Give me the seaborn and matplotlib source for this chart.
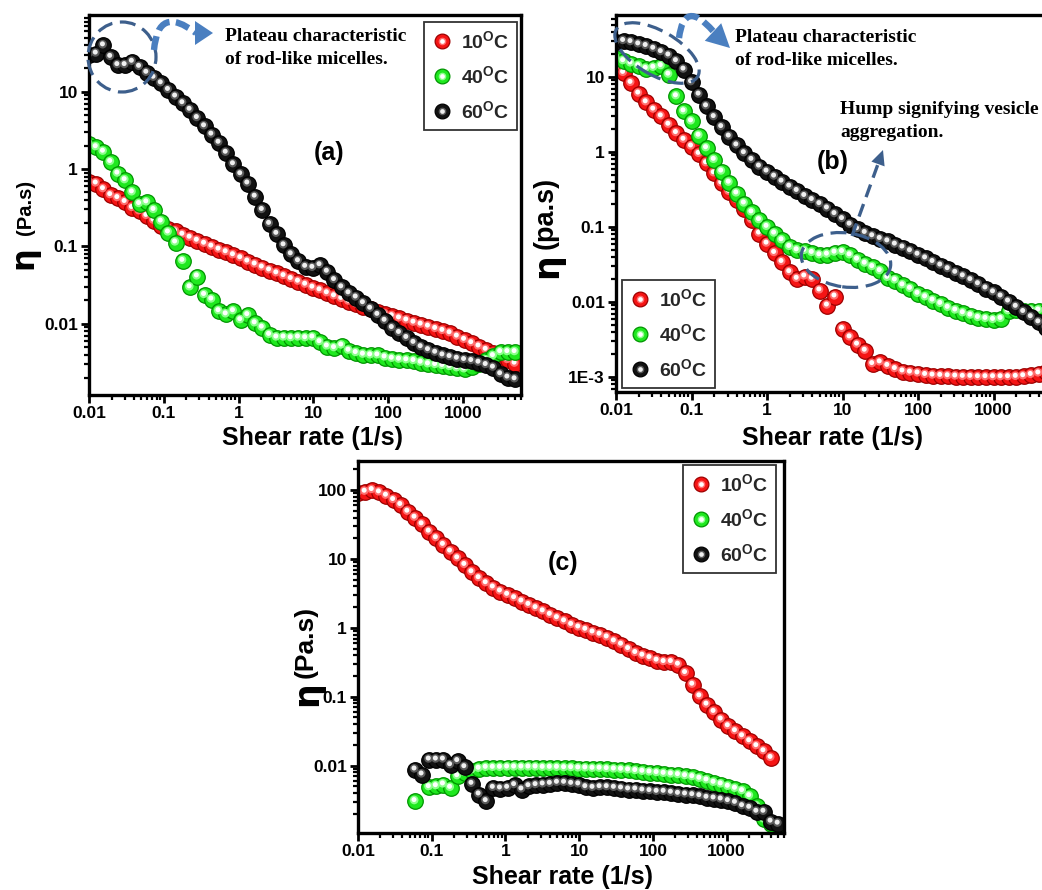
import numpy as np
import pandas as pd
import matplotlib
matplotlib.use("Agg")
import matplotlib.pyplot as plt
import seaborn as sns
from matplotlib.patches import Ellipse, Polygon, PathPatch
from matplotlib.path import Path
from matplotlib.lines import Line2D
from matplotlib.legend_handler import HandlerTuple
from matplotlib.ticker import FixedLocator, FixedFormatter, LogLocator, NullFormatter
from matplotlib.transforms import offset_copy, IdentityTransform

# ---------------------------------------------------------------------------
# Shear-rate sweeps (1/s)
# ---------------------------------------------------------------------------
shear_rate = [0.01, 0.0125, 0.0156, 0.0195, 0.0243, 0.0304, 0.038, 0.0474, 0.0593, 0.074,
              0.0925, 0.1155, 0.144, 0.18, 0.225, 0.281, 0.351, 0.439, 0.548, 0.684,
              0.855, 1.07, 1.33, 1.67, 2.08, 2.6, 3.25, 4.06, 5.07, 6.33,
              7.9, 9.87, 12.3, 15.4, 19.2, 24.0, 30.0, 37.5, 46.8, 58.5,
              73.0, 91.2, 114, 142, 178, 222, 277, 347, 433, 541,
              675, 844, 1054, 1316, 1644, 2054, 2566, 3204, 4002, 5000]

shear_rate_b = [0.01, 0.0126, 0.0158, 0.02, 0.0251, 0.0316, 0.0398, 0.0501, 0.0631, 0.0794,
                0.1, 0.126, 0.158, 0.2, 0.251, 0.316, 0.398, 0.501, 0.631, 0.794,
                1, 1.26, 1.58, 2, 2.51, 3.16, 3.98, 5.01, 6.31, 7.94,
                10, 12.6, 15.8, 20, 25.1, 31.6, 39.8, 50.1, 63.1, 79.4,
                100, 126, 158, 200, 251, 316, 398, 501, 631, 794,
                1000, 1260, 1580, 2000, 2510, 3160, 3980, 5010]

# ---------------------------------------------------------------------------
# Viscosity (Pa.s), panel (a)
# ---------------------------------------------------------------------------
a_10C = [0.68, 0.649, 0.548, 0.459, 0.420, 0.374, 0.313, 0.284, 0.247, 0.215,
         0.186, 0.170, 0.156, 0.141, 0.129, 0.118, 0.108, 0.0991, 0.0906, 0.0838,
         0.0767, 0.0702, 0.0635, 0.0582, 0.0532, 0.0488, 0.0447, 0.0412, 0.0378, 0.0349,
         0.0319, 0.0292, 0.0270, 0.0247, 0.0226, 0.0209, 0.0193, 0.0179, 0.0165, 0.0153,
         0.0143, 0.0133, 0.0125, 0.0117, 0.0110, 0.0103, 0.00971, 0.00916, 0.00855, 0.00806,
         0.00752, 0.00681, 0.00618, 0.00560, 0.00507, 0.00459, 0.00417, 0.00374, 0.00339, 0.00304]

a_40C = [2.1, 1.91, 1.67, 1.23, 0.871, 0.716, 0.498, 0.352, 0.370, 0.295,
         0.209, 0.151, 0.112, 0.0648, 0.0295, 0.0408, 0.0235, 0.0205, 0.0145, 0.0132,
         0.0145, 0.0111, 0.0129, 0.0101, 0.00889, 0.00716, 0.00662, 0.00662, 0.00649, 0.00662,
         0.00649, 0.00662, 0.00577, 0.00507, 0.00483, 0.00522, 0.00447, 0.00417, 0.00397, 0.00389,
         0.00389, 0.00366, 0.00352, 0.00342, 0.00336, 0.00329, 0.00313, 0.00298, 0.00292, 0.00284,
         0.00275, 0.00265, 0.00257, 0.00275, 0.00298, 0.00336, 0.00381, 0.00429, 0.00429, 0.00429]

a_60C = [30.0, 31.0, 39.6, 28.1, 22.0, 22.0, 24.3, 20.9, 17.5, 15.1,
         12.8, 10.5, 8.63, 7.08, 5.82, 4.55, 3.56, 2.78, 2.18, 1.62,
         1.15, 0.855, 0.649, 0.438, 0.295, 0.195, 0.145, 0.103, 0.0789, 0.0642,
         0.0543, 0.0527, 0.0570, 0.0469, 0.0366, 0.0295, 0.0247, 0.0218, 0.0184, 0.0156,
         0.0130, 0.0109, 0.00879, 0.00759, 0.00654, 0.00565, 0.00497, 0.00455, 0.00421, 0.00389,
         0.00370, 0.00352, 0.00339, 0.00329, 0.00313, 0.00292, 0.00270, 0.00222, 0.00201, 0.00191]

# ---------------------------------------------------------------------------
# Viscosity (Pa.s), panel (b)
# ---------------------------------------------------------------------------
b_10C = [13.2, 11.3, 8.31, 5.99, 4.58, 3.66, 2.97, 2.30, 1.78, 1.45,
         1.18, 0.940, 0.705, 0.518, 0.380, 0.294, 0.228, 0.176, 0.123, 0.0814,
         0.0598, 0.0449, 0.0340, 0.0249, 0.0203, 0.0218, 0.0203, 0.0142, 0.00893, 0.0118,
         0.00435, 0.00336, 0.00269, 0.00223, 0.00148, 0.00156, 0.00140, 0.00127, 0.00118, 0.00114,
         0.00111, 0.00106, 0.00104, 0.00103, 0.00102, 0.00101, 0.00100, 0.00100, 0.00099, 0.00099,
         0.00099, 0.00099, 0.00099, 0.00100, 0.00102, 0.00106, 0.00111, 0.00116]

b_40C = [17.9, 16.2, 15.1, 13.9, 12.8, 13.2, 13.9, 10.7, 5.51, 3.47,
         2.55, 1.64, 1.12, 0.782, 0.546, 0.388, 0.279, 0.205, 0.156, 0.123,
         0.100, 0.0814, 0.0663, 0.0540, 0.0487, 0.0477, 0.0449, 0.0418, 0.0426, 0.0453,
         0.0462, 0.0418, 0.0365, 0.0323, 0.0291, 0.0257, 0.0209, 0.0193, 0.0166, 0.0149,
         0.0128, 0.0115, 0.0104, 0.00940, 0.00832, 0.00766, 0.00705, 0.00656, 0.00610, 0.00592,
         0.00574, 0.00592, 0.00750, 0.00781, 0.00766, 0.00766, 0.00766, 0.00728]

b_60C = [29.1, 30.1, 29.1, 27.1, 25.8, 23.7, 21.4, 19.3, 16.2, 12.5,
         8.49, 5.80, 4.05, 2.91, 2.14, 1.60, 1.22, 0.960, 0.782, 0.637,
         0.546, 0.468, 0.401, 0.344, 0.301, 0.258, 0.228, 0.201, 0.176, 0.148,
         0.127, 0.107, 0.093, 0.083, 0.075, 0.069, 0.064, 0.058, 0.0530, 0.0474,
         0.0425, 0.0380, 0.0340, 0.0305, 0.0273, 0.0244, 0.0219, 0.0195, 0.0172, 0.0151,
         0.0134, 0.0118, 0.0101, 0.00859, 0.00733, 0.00625, 0.00533, 0.00456]

# ---------------------------------------------------------------------------
# Viscosity (Pa.s), panel (c)
# ---------------------------------------------------------------------------
c_10C = [90, 94.6, 100, 92.5, 82.8, 71.6, 60.7, 48.5, 39.7, 31.8,
         24.9, 20.0, 16.0, 12.8, 10.2, 8.18, 6.41, 5.25, 4.44, 3.85,
         3.37, 3.01, 2.69, 2.41, 2.15, 1.93, 1.73, 1.54, 1.38, 1.24,
         1.10, 1.01, 0.935, 0.855, 0.793, 0.724, 0.634, 0.568, 0.491, 0.430,
         0.393, 0.363, 0.333, 0.318, 0.318, 0.291, 0.220, 0.149, 0.101, 0.0766,
         0.0600, 0.0465, 0.0372, 0.0315, 0.0266, 0.0225, 0.0191, 0.0161, 0.0129, None]

c_40C = [None, None, None, None, None, None, None, None, 0.00304, None,
         0.00485, 0.00501, 0.00531, 0.00474, 0.00700, 0.00783, 0.00847, 0.00896, 0.00925, 0.00925,
         0.00925, 0.00935, 0.00935, 0.00935, 0.00935, 0.00935, 0.00925, 0.00925, 0.00925, 0.00915,
         0.00915, 0.00906, 0.00906, 0.00896, 0.00896, 0.00886, 0.00875, 0.00866, 0.00850, 0.00830,
         0.00810, 0.00792, 0.00775, 0.00757, 0.00741, 0.00725, 0.00700, 0.00677, 0.00641, 0.00607,
         0.00561, 0.00531, 0.00491, 0.00459, 0.00425, 0.00359, 0.00257, 0.00165, 0.00143, 0.00137]

c_60C = [None, None, None, None, None, None, None, None, 0.00875, 0.00741,
         0.0122, 0.0122, 0.0122, 0.0101, 0.0116, 0.00946, 0.00542, 0.00380, 0.00304, 0.00474,
         0.00464, 0.00474, 0.00519, 0.00449, 0.00501, 0.00519, 0.00531, 0.00542, 0.00561, 0.00561,
         0.00542, 0.00531, 0.00485, 0.00474, 0.00485, 0.00485, 0.00474, 0.00464, 0.00449, 0.00449,
         0.00434, 0.00425, 0.00415, 0.00415, 0.00402, 0.00388, 0.00380, 0.00371, 0.00359, 0.00340,
         0.00332, 0.00321, 0.00304, 0.00287, 0.00257, 0.00243, 0.00213, 0.00213, 0.00153, 0.00143]

# ---------------------------------------------------------------------------
# Labels
# ---------------------------------------------------------------------------
temperatures = ["10", "40", "60"]
legend_labels = [r"10$^{\mathbf{O}}$C", r"40$^{\mathbf{O}}$C", r"60$^{\mathbf{O}}$C"]
x_ticks = [0.01, 0.1, 1, 10, 100, 1000]
x_tick_labels = ["0.01", "0.1", "1", "10", "100", "1000"]
a_y_ticks = [0.01, 0.1, 1, 10]
a_y_tick_labels = ["0.01", "0.1", "1", "10"]
b_y_ticks = [0.001, 0.01, 0.1, 1, 10]
b_y_tick_labels = ["1E-3", "0.01", "0.1", "1", "10"]
c_y_ticks = [0.01, 0.1, 1, 10, 100]
c_y_tick_labels = ["0.01", "0.1", "1", "10", "100"]
x_label = "Shear rate (1/s)"
plateau_note = "Plateau characteristic\nof rod-like micelles."
hump_note = "Hump signifying vesicle\naggregation."

# ball colours: body, rim, inner glow, specular spot
STYLES = {
    "10": dict(face="#f51414", edge="#9c0000", glow="#ff7070", hl="#ffffff"),
    "40": dict(face="#1fe81f", edge="#009400", glow="#8dff8d", hl="#ffffff"),
    "60": dict(face="#121212", edge="#000000", glow="#5a5a5a", hl="#f0f0f0"),
}

# ---------------------------------------------------------------------------
sns.set_theme(style="ticks")
plt.rcParams.update({
    "font.family": ["Liberation Sans", "DejaVu Sans"],
    "font.weight": "bold",
    "mathtext.fontset": "custom",
    "mathtext.rm": "Liberation Sans:bold",
    "mathtext.bf": "Liberation Sans:bold",
    "mathtext.it": "Liberation Sans:bold",
    "axes.facecolor": "white",
    "figure.facecolor": "white",
})

W, H, DPI = 1042, 890, 100
fig = plt.figure(figsize=(W / DPI, H / DPI), dpi=DPI)
PIX = IdentityTransform()


def fx(px):
    return px / W


def fy(py):
    return 1 - py / H


def make_axes(left, top, right, bottom):
    return fig.add_axes([fx(left), fy(bottom), (right - left) / W, (bottom - top) / H])


def draw_panel(ax, rates, series, xlim, ylim, yticks, ylabels):
    ax.set_xscale("log")
    ax.set_yscale("log")
    for z, (name, vals) in enumerate(series):
        st = STYLES[name]
        df = pd.DataFrame({"rate": rates, "eta": vals}).dropna()
        base_z = 3 + 3 * z
        sns.scatterplot(data=df, x="rate", y="eta", ax=ax, s=125, color=st["face"],
                        edgecolor=st["edge"], linewidth=0.9, legend=False, zorder=base_z)
        glow = offset_copy(ax.transData, fig=fig, x=-0.8, y=1.2, units="dots")
        sns.scatterplot(data=df, x="rate", y="eta", ax=ax, s=38, color=st["glow"],
                        edgecolor="none", linewidth=0, legend=False, zorder=base_z + 1,
                        transform=glow)
        shine = offset_copy(ax.transData, fig=fig, x=-1.0, y=1.6, units="dots")
        sns.scatterplot(data=df, x="rate", y="eta", ax=ax, s=13, color=st["hl"],
                        edgecolor="none", linewidth=0, legend=False, zorder=base_z + 2,
                        transform=shine)
    ax.set_xlim(*xlim)
    ax.set_ylim(*ylim)
    ax.set_xlabel("")
    ax.set_ylabel("")
    ax.xaxis.set_major_locator(FixedLocator(x_ticks))
    ax.xaxis.set_major_formatter(FixedFormatter(x_tick_labels))
    ax.yaxis.set_major_locator(FixedLocator(yticks))
    ax.yaxis.set_major_formatter(FixedFormatter(ylabels))
    for axis in (ax.xaxis, ax.yaxis):
        axis.set_minor_locator(LogLocator(base=10, subs=np.arange(2, 10), numticks=60))
        axis.set_minor_formatter(NullFormatter())
    ax.tick_params(which="major", direction="out", length=6, width=2.0, labelsize=12.5,
                   pad=2, top=False, right=False, color="black", labelcolor="black")
    ax.tick_params(which="minor", direction="out", length=3.5, width=1.6,
                   top=False, right=False, color="black")
    for lbl in ax.get_xticklabels() + ax.get_yticklabels():
        lbl.set_fontweight("bold")
    for sp in ax.spines.values():
        sp.set_linewidth(2.4)
        sp.set_color("black")
        sp.set_zorder(30)


def add_legend(ax, left_px, top_px):
    handles = []
    for name in temperatures:
        st = STYLES[name]
        ball = Line2D([], [], ls="none", marker="o", markersize=10.6,
                      markerfacecolor=st["face"], markeredgecolor=st["edge"],
                      markeredgewidth=0.9)
        glow = Line2D([], [], ls="none", marker="o", markersize=5.5,
                      markerfacecolor=st["glow"], markeredgecolor="none")
        shine = Line2D([], [], ls="none", marker="o", markersize=3.4,
                       markerfacecolor=st["hl"], markeredgecolor="none")
        handles.append((ball, glow, shine))
    leg = ax.legend(handles, legend_labels,
                    handler_map={tuple: HandlerTuple(ndivide=1, pad=0)},
                    loc="upper left", bbox_to_anchor=(fx(left_px), fy(top_px)),
                    bbox_transform=fig.transFigure, frameon=True, fancybox=False,
                    edgecolor="#333333", framealpha=1, borderpad=0.4,
                    handlelength=1.1, handletextpad=0.4, labelspacing=0.68,
                    borderaxespad=0, prop={"weight": "bold", "size": 14})
    leg.get_frame().set_linewidth(1.3)
    leg.set_zorder(40)


def pix_text(x, y, s, **kw):
    fig.text(fx(x), fy(y), s, **kw)


def dashed_ellipse(cx, cy, w, h, angle=0.0):
    e = Ellipse((cx, H - cy), w, h, angle=angle, transform=PIX, fill=False,
                edgecolor="#3d5f8c", linewidth=2.3, linestyle=(0, (5, 2.4)), zorder=20)
    fig.add_artist(e)


def curved_arrow(p0, p1, p2, tip, base1, base2):
    verts = [(p0[0], H - p0[1]), (p1[0], H - p1[1]), (p2[0], H - p2[1])]
    path = Path(verts, [Path.MOVETO, Path.CURVE3, Path.CURVE3])
    fig.add_artist(PathPatch(path, transform=PIX, fill=False, edgecolor="#4a7fc0",
                             linewidth=4.6, linestyle=(0, (2.2, 1.0)), zorder=20))
    head = Polygon([(tip[0], H - tip[1]), (base1[0], H - base1[1]), (base2[0], H - base2[1])],
                   closed=True, transform=PIX, facecolor="#4a7fc0", edgecolor="none", zorder=20)
    fig.add_artist(head)


# ---------------------------------------------------------------------------
# Panel (a)
# ---------------------------------------------------------------------------
ax_a = make_axes(89, 15, 521, 395)
draw_panel(ax_a, shear_rate, [("10", a_10C), ("40", a_40C), ("60", a_60C)],
           (0.01, 6000), (0.0012, 98), a_y_ticks, a_y_tick_labels)
add_legend(ax_a, 424, 22)

# ---------------------------------------------------------------------------
# Panel (b)
# ---------------------------------------------------------------------------
ax_b = make_axes(616, 15, 1050, 392)
draw_panel(ax_b, shear_rate_b, [("10", b_10C), ("40", b_40C), ("60", b_60C)],
           (0.01, 5600), (0.00063, 67), b_y_ticks, b_y_tick_labels)
add_legend(ax_b, 622, 280)

# ---------------------------------------------------------------------------
# Panel (c)
# ---------------------------------------------------------------------------
ax_c = make_axes(358, 461, 784, 833)
draw_panel(ax_c, shear_rate, [("10", c_10C), ("40", c_40C), ("60", c_60C)],
           (0.01, 6000), (0.00105, 265), c_y_ticks, c_y_tick_labels)
add_legend(ax_c, 683, 465)

# ---------------------------------------------------------------------------
# Axis titles
# ---------------------------------------------------------------------------
lab = dict(ha="center", va="center", fontweight="bold", color="black")
pix_text(312, 438, x_label, fontsize=18, **lab)
pix_text(833, 438, x_label, fontsize=18, **lab)
pix_text(562, 877, x_label, fontsize=18, **lab)

eta_font = ["DejaVu Sans"]
pix_text(24, 258, "η", fontsize=23, rotation=90, family=eta_font, **lab)
pix_text(25, 207, "(Pa.s)", fontsize=14.5, rotation=90, **lab)
pix_text(547, 266, "η", fontsize=25, rotation=90, family=eta_font, **lab)
pix_text(546, 213, "(pa.s)", fontsize=19.5, rotation=90, **lab)
pix_text(307, 694, "η", fontsize=25, rotation=90, family=eta_font, **lab)
pix_text(306, 642, "(Pa.s)", fontsize=19, rotation=90, **lab)

# panel tags
pix_text(329, 153, "(a)", fontsize=18, **lab)
pix_text(833, 162, "(b)", fontsize=18, **lab)
pix_text(563, 563, "(c)", fontsize=18, **lab)

# ---------------------------------------------------------------------------
# Notes with callouts
# ---------------------------------------------------------------------------
note = dict(ha="left", va="center", fontsize=14, fontweight="bold",
            family=["Liberation Serif", "DejaVu Serif"], color="black", linespacing=1.4)
pix_text(225, 48, plateau_note, **note)
pix_text(735, 49, plateau_note, **note)
pix_text(840, 121, hump_note, **note)

# (a) plateau ring and curved pointer
dashed_ellipse(122, 57, 68, 70)
curved_arrow((154, 50), (158, 4), (196, 33), (213, 33), (195, 21), (195, 45))

# (b) plateau ring and curved pointer
dashed_ellipse(657, 53, 94, 44, angle=-30)
curved_arrow((679, 38), (684, -2), (713, 31), (730, 48), (704.8, 40.8), (721.2, 23.2))

# (b) hump ring and straight pointer
dashed_ellipse(846, 260, 90, 54, angle=-8)
shaft = Path([(852, H - 236), (878, H - 164)], [Path.MOVETO, Path.LINETO])
fig.add_artist(PathPatch(shaft, transform=PIX, fill=False, edgecolor="#3d5f8c",
                         linewidth=2.4, linestyle=(0, (4, 2.2)), zorder=20))
fig.add_artist(Polygon([(883, H - 150), (871.4, H - 161.6), (884.6, H - 166.4)], closed=True,
                       transform=PIX, facecolor="#3d5f8c", edgecolor="none", zorder=20))

fig.savefig("out.png", dpi=DPI)
